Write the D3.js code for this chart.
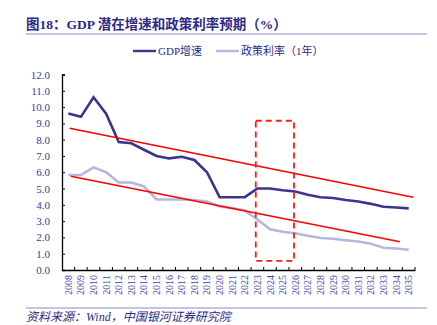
<!DOCTYPE html>
<html>
<head>
<meta charset="utf-8">
<script src="https://cdn.jsdelivr.net/npm/d3@7"></script>
<style>
  body { margin: 0; background: #fff; }
  svg { display: block; }
  .serif { font-family: "Liberation Serif", "DejaVu Serif", "Noto Sans CJK SC", serif; }
</style>
</head>
<body>
<svg id="chart" width="437" height="325"></svg>
<script>
var years = d3.range(2008, 2036).map(String);
var gdp = [9.6, 9.4, 10.6, 9.6, 7.85, 7.78, 7.38, 7.0, 6.85, 6.95, 6.75, 6.0,
  4.47, 4.47, 4.47, 5.0, 5.0, 4.9, 4.82, 4.62, 4.47, 4.42, 4.3, 4.2, 4.06, 3.88, 3.84, 3.78];
var rate = [5.83, 5.83, 6.3, 6.0, 5.37, 5.37, 5.13, 4.33, 4.33, 4.33, 4.3, 4.2,
  3.9, 3.8, 3.65, 3.1, 2.5, 2.35, 2.26, 2.1, 1.96, 1.92, 1.83, 1.75, 1.61, 1.37, 1.32, 1.24];
var upperTrend = [[2008.1, 8.7], [2035.35, 4.47]];
var lowerTrend = [[2008.2, 5.76], [2034.3, 1.73]];
var box = { x0: 2022.87, x1: 2025.9, y0: 0.56, y1: 9.16 };
var yTicks = d3.range(0, 12.1, 1);

var navy = "#2e2a85";
var svg = d3.select("#chart");

// title + rules
svg.append("text").attr("x", 26).attr("y", 29)
  .attr("class", "serif").attr("font-size", 13.5).attr("font-weight", "bold")
  .attr("fill", navy).text("图18：GDP 潜在增速和政策利率预期（%）");
svg.append("line").attr("x1", 26).attr("x2", 427).attr("y1", 34).attr("y2", 34)
  .attr("stroke", "#8f89c6").attr("stroke-width", 1.2);
svg.append("line").attr("x1", 26).attr("x2", 427).attr("y1", 308).attr("y2", 308)
  .attr("stroke", "#8f89c6").attr("stroke-width", 1.2);
svg.append("text").attr("x", 26).attr("y", 321)
  .attr("class", "serif").attr("font-size", 12).attr("font-style", "italic")
  .attr("fill", navy).text("资料来源：Wind，中国银河证券研究院");

// scales
var x = d3.scaleBand().domain(years).range([62, 415]);
var xl = d3.scaleLinear().domain([2008, 2035])
  .range([x("2008") + x.bandwidth() / 2, x("2035") + x.bandwidth() / 2]);
var y = d3.scaleLinear().domain([0, 12]).range([270, 74.5]);

// axes
var yAxis = svg.append("g").attr("transform", "translate(62,0)")
  .call(d3.axisLeft(y).tickValues(yTicks).tickFormat(d3.format(".1f")).tickSize(-3).tickPadding(12));
yAxis.select(".domain").attr("stroke", "#000").attr("stroke-width", 1.3);
yAxis.selectAll("text").attr("class", "serif").attr("font-size", 11).attr("fill", "#3b3b9e");

var xAxis = svg.append("g").attr("transform", "translate(0,270)")
  .call(d3.axisBottom(x).tickSize(0).tickSizeOuter(0));
xAxis.select(".domain").attr("stroke", "#000").attr("stroke-width", 1.3);
xAxis.selectAll("text")
  .attr("class", "serif").attr("font-size", 10).attr("fill", "#4646a8")
  .attr("transform", "rotate(-90)").attr("text-anchor", "end")
  .attr("x", -5).attr("y", 0).attr("dy", "0.35em");
// inward ticks at band boundaries
svg.append("g").selectAll("line")
  .data(years.slice(1).concat(["end"]))
  .join("line")
  .attr("x1", function (d) { return d === "end" ? 415 : x(d); })
  .attr("x2", function (d) { return d === "end" ? 415 : x(d); })
  .attr("y1", 270).attr("y2", 267)
  .attr("stroke", "#000").attr("stroke-width", 1);

// series
var line = d3.line()
  .x(function (d, i) { return x(years[i]) + x.bandwidth() / 2; })
  .y(function (d) { return y(d); });

svg.append("path").datum(rate).attr("d", line)
  .attr("fill", "none").attr("stroke", "#b9b5dd").attr("stroke-width", 2.6);
svg.append("path").datum(gdp).attr("d", line)
  .attr("fill", "none").attr("stroke", "#3c3491").attr("stroke-width", 2.6);

// trend lines
var tline = d3.line().x(function (d) { return xl(d[0]); }).y(function (d) { return y(d[1]); });
[upperTrend, lowerTrend].forEach(function (t) {
  svg.append("path").datum(t).attr("d", tline)
    .attr("fill", "none").attr("stroke", "#ff0000").attr("stroke-width", 1.6);
});

// dashed box
svg.append("rect")
  .attr("x", xl(box.x0)).attr("y", y(box.y1))
  .attr("width", xl(box.x1) - xl(box.x0)).attr("height", y(box.y0) - y(box.y1))
  .attr("fill", "none").attr("stroke", "#ff1a1a").attr("stroke-width", 1.8)
  .attr("stroke-dasharray", "6,4");

// legend
var legend = [
  { name: "GDP增速", color: "#3c3491", x: 133 },
  { name: "政策利率（1年）", color: "#b9b5dd", x: 216 }
];
legend.forEach(function (l) {
  svg.append("line").attr("x1", l.x).attr("x2", l.x + 23).attr("y1", 51).attr("y2", 51)
    .attr("stroke", l.color).attr("stroke-width", 2.4);
  svg.append("text").attr("x", l.x + 25).attr("y", 51).attr("dy", "0.35em")
    .attr("class", "serif").attr("font-size", 11).attr("fill", navy).text(l.name);
});
</script>
</body>
</html>
